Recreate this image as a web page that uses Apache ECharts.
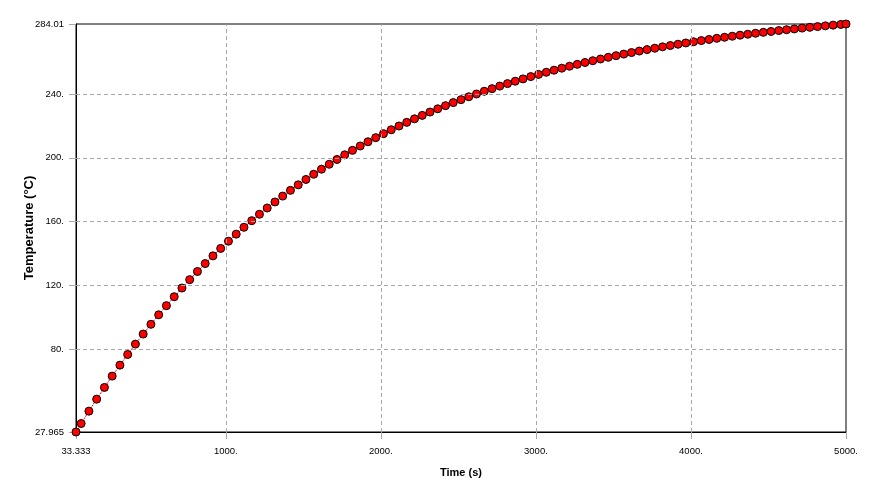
<!DOCTYPE html>
<html>
<head>
<meta charset="utf-8">
<script src="https://cdn.jsdelivr.net/npm/echarts@6/dist/echarts.min.js"></script>
<style>html,body{margin:0;padding:0;background:#fff}#c{width:869px;height:499px}</style>
</head>
<body>
<div id="c"></div>
<script>
var times = [33.333, 66.667, 116.667, 166.667, 216.667, 266.667, 316.667, 366.667, 416.667, 466.667,
  516.667, 566.667, 616.667, 666.667, 716.667, 766.667, 816.667, 866.667, 916.667, 966.667,
  1016.667, 1066.667, 1116.667, 1166.667, 1216.667, 1266.667, 1316.667, 1366.667, 1416.667, 1466.667,
  1516.667, 1566.667, 1616.667, 1666.667, 1716.667, 1766.667, 1816.667, 1866.667, 1916.667, 1966.667,
  2016.667, 2066.667, 2116.667, 2166.667, 2216.667, 2266.667, 2316.667, 2366.667, 2416.667, 2466.667,
  2516.667, 2566.667, 2616.667, 2666.667, 2716.667, 2766.667, 2816.667, 2866.667, 2916.667, 2966.667,
  3016.667, 3066.667, 3116.667, 3166.667, 3216.667, 3266.667, 3316.667, 3366.667, 3416.667, 3466.667,
  3516.667, 3566.667, 3616.667, 3666.667, 3716.667, 3766.667, 3816.667, 3866.667, 3916.667, 3966.667,
  4016.667, 4066.667, 4116.667, 4166.667, 4216.667, 4266.667, 4316.667, 4366.667, 4416.667, 4466.667,
  4516.667, 4566.667, 4616.667, 4666.667, 4716.667, 4766.667, 4816.667, 4866.667, 4916.667, 4966.667,
  5000];
var temperatures = [27.965, 33.28, 41.05, 48.59, 55.92, 63.03, 69.92, 76.62, 83.12, 89.43,
  95.55, 101.50, 107.27, 112.87, 118.30, 123.58, 128.70, 133.67, 138.50, 143.18,
  147.72, 152.14, 156.42, 160.58, 164.61, 168.53, 172.33, 176.02, 179.60, 183.08,
  186.45, 189.73, 192.90, 195.99, 198.99, 201.89, 204.71, 207.45, 210.11, 212.69,
  215.20, 217.63, 219.99, 222.28, 224.50, 226.66, 228.75, 230.79, 232.76, 234.68,
  236.54, 238.34, 240.09, 241.79, 243.44, 245.04, 246.60, 248.11, 249.57, 251.00,
  252.38, 253.72, 255.02, 256.28, 257.50, 258.69, 259.85, 260.97, 262.05, 263.11,
  264.13, 265.13, 266.09, 267.03, 267.94, 268.82, 269.68, 270.51, 271.32, 272.10,
  272.86, 273.60, 274.31, 275.01, 275.69, 276.34, 276.98, 277.59, 278.19, 278.77,
  279.34, 279.89, 280.42, 280.93, 281.44, 281.92, 282.39, 282.85, 283.30, 283.73,
  284.01];
var xTickValues = [33.333, 1000, 2000, 3000, 4000, 5000];
var xTickLabels = ['33.333', '1000.', '2000.', '3000.', '4000.', '5000.'];
var yTickValues = [27.965, 80, 120, 160, 200, 240, 284.01];
var yTickLabels = ['27.965', '80.', '120.', '160.', '200.', '240.', '284.01'];
var xGridValues = [1000, 2000, 3000, 4000];
var yGridValues = [80, 120, 160, 200, 240];
var xTitle = 'Time (s)';
var yTitle = 'Temperature (°C)';

var pts = times.map(function (t, i) { return [t, temperatures[i]]; });
function lab(values, labels) {
  return function (v) {
    for (var i = 0; i < values.length; i++) if (Math.abs(values[i] - v) < 1e-6) return labels[i];
    return '';
  };
}
var gridLines = xGridValues.map(function (v) { return { xAxis: v }; })
  .concat(yGridValues.map(function (v) { return { yAxis: v }; }));
var font = '"Liberation Sans", Arial, sans-serif';

var chart = echarts.init(document.getElementById('c'), null, { renderer: 'canvas' });
chart.setOption({
  animation: false,
  backgroundColor: '#ffffff',
  grid: { left: 76, right: 23, top: 24, bottom: 67, show: true, borderColor: '#000', borderWidth: 1, backgroundColor: 'transparent' },
  xAxis: {
    type: 'value', min: 33.333, max: 5000,
    name: xTitle, nameLocation: 'middle', nameGap: 35, nameMoveOverlap: false,
    nameTextStyle: { fontFamily: font, fontWeight: 'bold', fontSize: 11, color: '#000' },
    axisLine: { show: true, onZero: false, lineStyle: { color: '#000', width: 1 } },
    axisTick: { show: true, length: 7, customValues: xTickValues, lineStyle: { color: '#a8a8a8' } },
    axisLabel: { customValues: xTickValues, formatter: lab(xTickValues, xTickLabels), margin: 14, fontFamily: font, fontSize: 9.5, color: '#000', showMinLabel: true, showMaxLabel: true },
    splitLine: { show: false }
  },
  yAxis: {
    type: 'value', min: 27.965, max: 284.01,
    name: yTitle, nameLocation: 'middle', nameGap: 40, nameMoveOverlap: false,
    nameTextStyle: { fontFamily: font, fontWeight: 'bold', fontSize: 13, color: '#000' },
    axisLine: { show: true, onZero: false, lineStyle: { color: '#000', width: 1 } },
    axisTick: { show: true, length: 7, customValues: yTickValues, lineStyle: { color: '#a8a8a8' } },
    axisLabel: { customValues: yTickValues, formatter: lab(yTickValues, yTickLabels), margin: 12, padding: [5, 0, 0, 0], fontFamily: font, fontSize: 9.5, color: '#000', showMinLabel: true, showMaxLabel: true },
    splitLine: { show: false }
  },
  series: [
    {
      type: 'line', data: pts, z: 1, symbol: 'none', silent: true,
      lineStyle: { opacity: 0 },
      markLine: {
        silent: true, symbol: ['none', 'none'], label: { show: false },
        lineStyle: { color: '#a8a8a8', type: [4, 3], width: 1 },
        data: gridLines
      }
    },
    {
      type: 'line', data: pts, z: 3,
      symbol: 'circle', symbolSize: 8, showAllSymbol: true,
      itemStyle: { color: '#ff0000', borderColor: '#000', borderWidth: 1 },
      lineStyle: { color: '#ff0000', width: 1, type: [2, 1] }
    }
  ]
});
</script>
</body>
</html>
